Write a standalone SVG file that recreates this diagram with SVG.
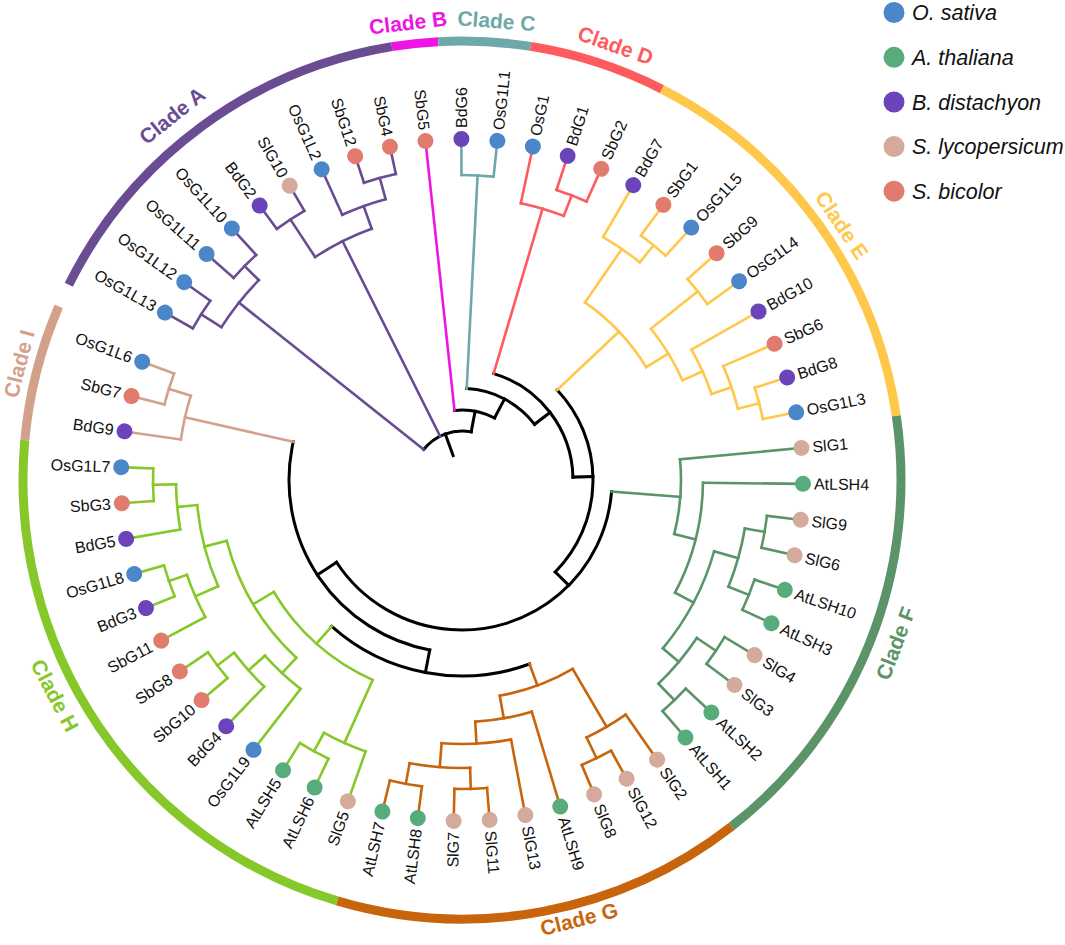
<svg xmlns="http://www.w3.org/2000/svg" width="1065" height="945" viewBox="0 0 1065 945">
<style>
.c line,.c circle{fill:none;stroke-width:2.6;stroke-linecap:square}
.k{stroke:#000}.k line,.k circle{stroke-width:3}
.A{stroke:#6A4C93}.B{stroke:#EF14E4}.C{stroke:#6FA8A8}.D{stroke:#FF5A5E}.E{stroke:#FFC84B}.F{stroke:#5A9468}.G{stroke:#C8650C}.H{stroke:#86C829}.I{stroke:#D3A18B}
.os{fill:#4A86C8}.at{fill:#58AC7C}.bd{fill:#6B44BA}.sl{fill:#D3AA9B}.sb{fill:#E07B6E}
.lb{font-family:"Liberation Sans",Arial,sans-serif;font-size:16px;fill:#111}
.fl{text-anchor:end}
.cl{font-family:"Liberation Sans",Arial,sans-serif;font-size:21px;font-weight:bold;text-anchor:middle;dominant-baseline:central}
.lg{font-family:"Liberation Sans",Arial,sans-serif;font-size:21.5px;font-style:italic;fill:#111}
</style>
<rect width="1065" height="945" fill="#fff"/>

<g id="clade-ring" transform="translate(462,480)" fill="none" stroke-width="9">
<circle r="439" pathLength="360" stroke-dasharray="54.4 360" transform="rotate(206.4)" stroke="#6A4C93"/>
<circle r="439" pathLength="360" stroke-dasharray="6.1 360" transform="rotate(260.8)" stroke="#EF14E4"/>
<circle r="439" pathLength="360" stroke-dasharray="12.1 360" transform="rotate(266.9)" stroke="#6FA8A8"/>
<circle r="439" pathLength="360" stroke-dasharray="18.1 360" transform="rotate(279)" stroke="#FF5A5E"/>
<circle r="439" pathLength="360" stroke-dasharray="54.5 360" transform="rotate(297.1)" stroke="#FFC84B"/>
<circle r="439" pathLength="360" stroke-dasharray="60.5 360" transform="rotate(351.6)" stroke="#5A9468"/>
<circle r="439" pathLength="360" stroke-dasharray="54.4 360" transform="rotate(52.1)" stroke="#C8650C"/>
<circle r="439" pathLength="360" stroke-dasharray="78.7 360" transform="rotate(106.5)" stroke="#86C829"/>
<circle r="439" pathLength="360" stroke-dasharray="18.1 360" transform="rotate(185.2)" stroke="#D3A18B"/>
</g>

<g id="clade-labels" class="cl">
<text transform="translate(172,115.5) rotate(-38.5)" fill="#6A4C93">Clade A</text>
<text transform="translate(408,22.5) rotate(-6.7)" fill="#EF14E4">Clade B</text>
<text transform="translate(496.5,20.7) rotate(4.3)" fill="#6FA8A8">Clade C</text>
<text transform="translate(615.6,45.2) rotate(19.5)" fill="#FF5A5E">Clade D</text>
<text transform="translate(842,225) rotate(56.2)" fill="#FFC84B">Clade E</text>
<text transform="translate(895.4,643.4) rotate(-69.3)" fill="#5A9468">Clade F</text>
<text transform="translate(579,919) rotate(-14.3)" fill="#C8650C">Clade G</text>
<text transform="translate(55,695.4) rotate(62.1)" fill="#86C829">Clade H</text>
<text transform="translate(19,363.7) rotate(-75.3)" fill="#D3A18B">Clade I</text>
</g>

<g id="connectors" class="c" transform="translate(462,480)">
<g id="backbone" class="k">
<line x1="26" x2="49" transform="rotate(250)"/>
<circle r="49" pathLength="360" stroke-dasharray="62.32 360" transform="rotate(218.48)"/>
<line x1="49" x2="70" transform="rotate(280.8)"/>
<circle r="70" pathLength="360" stroke-dasharray="33.85 360" transform="rotate(263.85)"/>
<line x1="70" x2="91.5" transform="rotate(297.7)"/>
<circle r="91.5" pathLength="360" stroke-dasharray="49.57 360" transform="rotate(272.93)"/>
<line x1="91.5" x2="111" transform="rotate(322.5)"/>
<circle r="111" pathLength="360" stroke-dasharray="71.96 360" transform="rotate(286.54)"/>
<line x1="111" x2="131" transform="rotate(358.5)"/>
<circle r="131" pathLength="360" stroke-dasharray="88 360" transform="rotate(316.6)"/>
<line x1="131" x2="150" transform="rotate(44.6)"/>
<circle r="150" pathLength="360" stroke-dasharray="142.32 360" transform="rotate(4.43)"/>
<line x1="150" x2="173" transform="rotate(146.75)"/>
<circle r="173" pathLength="360" stroke-dasharray="91.98 360" transform="rotate(100.76)"/>
<line x1="173" x2="196" transform="rotate(100.76)"/>
<circle r="196" pathLength="360" stroke-dasharray="61.82 360" transform="rotate(69.85)"/>
</g>
<g id="edges-A" class="A">
<line x1="49" x2="285" transform="rotate(218.48)"/>
<circle r="285" pathLength="360" stroke-dasharray="12.1 360" transform="rotate(212.43)"/>
<line x1="285" x2="309" transform="rotate(212.43)"/>
<circle r="309" pathLength="360" stroke-dasharray="6.05 360" transform="rotate(209.4)"/>
<line x1="309" x2="341" transform="rotate(209.4)"/>
<line x1="309" x2="341" transform="rotate(215.45)"/>
<line x1="285" x2="305" transform="rotate(224.53)"/>
<circle r="305" pathLength="360" stroke-dasharray="6.05 360" transform="rotate(221.5)"/>
<line x1="305" x2="341" transform="rotate(221.5)"/>
<line x1="305" x2="341" transform="rotate(227.55)"/>
<line x1="49" x2="267" transform="rotate(243.43)"/>
<circle r="267" pathLength="360" stroke-dasharray="13.61 360" transform="rotate(236.63)"/>
<line x1="267" x2="312" transform="rotate(236.63)"/>
<circle r="312" pathLength="360" stroke-dasharray="6.05 360" transform="rotate(233.6)"/>
<line x1="312" x2="341" transform="rotate(233.6)"/>
<line x1="312" x2="341" transform="rotate(239.65)"/>
<line x1="267" x2="291" transform="rotate(250.24)"/>
<circle r="291" pathLength="360" stroke-dasharray="9.08 360" transform="rotate(245.7)"/>
<line x1="291" x2="341" transform="rotate(245.7)"/>
<line x1="291" x2="313" transform="rotate(254.78)"/>
<circle r="313" pathLength="360" stroke-dasharray="6.05 360" transform="rotate(251.75)"/>
<line x1="313" x2="341" transform="rotate(251.75)"/>
<line x1="313" x2="341" transform="rotate(257.8)"/>
</g>
<g id="edges-B" class="B">
<line x1="70" x2="341" transform="rotate(263.85)"/>
</g>
<g id="edges-C" class="C">
<line x1="91.5" x2="305" transform="rotate(272.93)"/>
<circle r="305" pathLength="360" stroke-dasharray="6.05 360" transform="rotate(269.9)"/>
<line x1="305" x2="341" transform="rotate(269.9)"/>
<line x1="305" x2="341" transform="rotate(275.95)"/>
</g>
<g id="edges-D" class="D">
<line x1="111" x2="283" transform="rotate(286.54)"/>
<circle r="283" pathLength="360" stroke-dasharray="9.08 360" transform="rotate(282)"/>
<line x1="283" x2="341" transform="rotate(282)"/>
<line x1="283" x2="305" transform="rotate(291.08)"/>
<circle r="305" pathLength="360" stroke-dasharray="6.05 360" transform="rotate(288.05)"/>
<line x1="305" x2="341" transform="rotate(288.05)"/>
<line x1="305" x2="341" transform="rotate(294.1)"/>
</g>
<g id="edges-E" class="E">
<line x1="131" x2="216" transform="rotate(316.6)"/>
<circle r="216" pathLength="360" stroke-dasharray="23.82 360" transform="rotate(304.69)"/>
<line x1="216" x2="281" transform="rotate(304.69)"/>
<circle r="281" pathLength="360" stroke-dasharray="9.08 360" transform="rotate(300.15)"/>
<line x1="281" x2="341" transform="rotate(300.15)"/>
<line x1="281" x2="303" transform="rotate(309.23)"/>
<circle r="303" pathLength="360" stroke-dasharray="6.05 360" transform="rotate(306.2)"/>
<line x1="303" x2="341" transform="rotate(306.2)"/>
<line x1="303" x2="341" transform="rotate(312.25)"/>
<line x1="216" x2="242" transform="rotate(328.51)"/>
<circle r="242" pathLength="360" stroke-dasharray="14.36 360" transform="rotate(321.33)"/>
<line x1="242" x2="302" transform="rotate(321.33)"/>
<circle r="302" pathLength="360" stroke-dasharray="6.05 360" transform="rotate(318.3)"/>
<line x1="302" x2="341" transform="rotate(318.3)"/>
<line x1="302" x2="341" transform="rotate(324.35)"/>
<line x1="242" x2="264" transform="rotate(335.69)"/>
<circle r="264" pathLength="360" stroke-dasharray="10.59 360" transform="rotate(330.4)"/>
<line x1="264" x2="341" transform="rotate(330.4)"/>
<line x1="264" x2="285" transform="rotate(340.99)"/>
<circle r="285" pathLength="360" stroke-dasharray="9.08 360" transform="rotate(336.45)"/>
<line x1="285" x2="341" transform="rotate(336.45)"/>
<line x1="285" x2="307" transform="rotate(345.53)"/>
<circle r="307" pathLength="360" stroke-dasharray="6.05 360" transform="rotate(342.5)"/>
<line x1="307" x2="341" transform="rotate(342.5)"/>
<line x1="307" x2="341" transform="rotate(348.55)"/>
</g>
<g id="edges-F" class="F">
<line x1="150" x2="219" transform="rotate(4.43)"/>
<circle r="219" pathLength="360" stroke-dasharray="19.66 360" transform="rotate(354.6)"/>
<line x1="219" x2="341" transform="rotate(354.6)"/>
<line x1="219" x2="241" transform="rotate(14.26)"/>
<circle r="241" pathLength="360" stroke-dasharray="27.23 360" transform="rotate(0.65)"/>
<line x1="241" x2="341" transform="rotate(0.65)"/>
<line x1="241" x2="262" transform="rotate(27.88)"/>
<circle r="262" pathLength="360" stroke-dasharray="24.2 360" transform="rotate(15.78)"/>
<line x1="262" x2="287" transform="rotate(15.78)"/>
<circle r="287" pathLength="360" stroke-dasharray="12.1 360" transform="rotate(9.73)"/>
<line x1="287" x2="307" transform="rotate(9.73)"/>
<circle r="307" pathLength="360" stroke-dasharray="6.05 360" transform="rotate(6.7)"/>
<line x1="307" x2="341" transform="rotate(6.7)"/>
<line x1="307" x2="341" transform="rotate(12.75)"/>
<line x1="287" x2="309" transform="rotate(21.83)"/>
<circle r="309" pathLength="360" stroke-dasharray="6.05 360" transform="rotate(18.8)"/>
<line x1="309" x2="341" transform="rotate(18.8)"/>
<line x1="309" x2="341" transform="rotate(24.85)"/>
<line x1="262" x2="283" transform="rotate(39.98)"/>
<circle r="283" pathLength="360" stroke-dasharray="12.1 360" transform="rotate(33.93)"/>
<line x1="283" x2="306" transform="rotate(33.93)"/>
<circle r="306" pathLength="360" stroke-dasharray="6.05 360" transform="rotate(30.9)"/>
<line x1="306" x2="341" transform="rotate(30.9)"/>
<line x1="306" x2="341" transform="rotate(36.95)"/>
<line x1="283" x2="306" transform="rotate(46.03)"/>
<circle r="306" pathLength="360" stroke-dasharray="6.05 360" transform="rotate(43)"/>
<line x1="306" x2="341" transform="rotate(43)"/>
<line x1="306" x2="341" transform="rotate(49.05)"/>
</g>
<g id="edges-G" class="G">
<line x1="196" x2="219" transform="rotate(69.85)"/>
<circle r="219" pathLength="360" stroke-dasharray="20.42 360" transform="rotate(59.64)"/>
<line x1="219" x2="286" transform="rotate(59.64)"/>
<circle r="286" pathLength="360" stroke-dasharray="9.08 360" transform="rotate(55.1)"/>
<line x1="286" x2="341" transform="rotate(55.1)"/>
<line x1="286" x2="309" transform="rotate(64.18)"/>
<circle r="309" pathLength="360" stroke-dasharray="6.05 360" transform="rotate(61.15)"/>
<line x1="309" x2="341" transform="rotate(61.15)"/>
<line x1="309" x2="341" transform="rotate(67.2)"/>
<line x1="219" x2="242" transform="rotate(80.06)"/>
<circle r="242" pathLength="360" stroke-dasharray="13.61 360" transform="rotate(73.25)"/>
<line x1="242" x2="341" transform="rotate(73.25)"/>
<line x1="242" x2="264" transform="rotate(86.86)"/>
<circle r="264" pathLength="360" stroke-dasharray="15.13 360" transform="rotate(79.3)"/>
<line x1="264" x2="341" transform="rotate(79.3)"/>
<line x1="264" x2="288" transform="rotate(94.43)"/>
<circle r="288" pathLength="360" stroke-dasharray="12.1 360" transform="rotate(88.38)"/>
<line x1="288" x2="309" transform="rotate(88.38)"/>
<circle r="309" pathLength="360" stroke-dasharray="6.05 360" transform="rotate(85.35)"/>
<line x1="309" x2="341" transform="rotate(85.35)"/>
<line x1="309" x2="341" transform="rotate(91.4)"/>
<line x1="288" x2="309" transform="rotate(100.48)"/>
<circle r="309" pathLength="360" stroke-dasharray="6.05 360" transform="rotate(97.45)"/>
<line x1="309" x2="341" transform="rotate(97.45)"/>
<line x1="309" x2="341" transform="rotate(103.5)"/>
</g>
<g id="edges-H" class="H">
<line x1="196" x2="219" transform="rotate(131.67)"/>
<circle r="219" pathLength="360" stroke-dasharray="35.16 360" transform="rotate(114.09)"/>
<line x1="219" x2="288" transform="rotate(114.09)"/>
<circle r="288" pathLength="360" stroke-dasharray="9.08 360" transform="rotate(109.55)"/>
<line x1="288" x2="341" transform="rotate(109.55)"/>
<line x1="288" x2="309" transform="rotate(118.63)"/>
<circle r="309" pathLength="360" stroke-dasharray="6.05 360" transform="rotate(115.6)"/>
<line x1="309" x2="341" transform="rotate(115.6)"/>
<line x1="309" x2="341" transform="rotate(121.65)"/>
<line x1="219" x2="243" transform="rotate(149.25)"/>
<circle r="243" pathLength="360" stroke-dasharray="32.52 360" transform="rotate(132.99)"/>
<line x1="243" x2="264" transform="rotate(132.99)"/>
<circle r="264" pathLength="360" stroke-dasharray="10.59 360" transform="rotate(127.7)"/>
<line x1="264" x2="341" transform="rotate(127.7)"/>
<line x1="264" x2="286" transform="rotate(138.29)"/>
<circle r="286" pathLength="360" stroke-dasharray="9.08 360" transform="rotate(133.75)"/>
<line x1="286" x2="341" transform="rotate(133.75)"/>
<line x1="286" x2="307" transform="rotate(142.83)"/>
<circle r="307" pathLength="360" stroke-dasharray="6.05 360" transform="rotate(139.8)"/>
<line x1="307" x2="341" transform="rotate(139.8)"/>
<line x1="307" x2="341" transform="rotate(145.85)"/>
<line x1="243" x2="266" transform="rotate(165.51)"/>
<circle r="266" pathLength="360" stroke-dasharray="18.15 360" transform="rotate(156.44)"/>
<line x1="266" x2="291" transform="rotate(156.44)"/>
<circle r="291" pathLength="360" stroke-dasharray="9.08 360" transform="rotate(151.9)"/>
<line x1="291" x2="341" transform="rotate(151.9)"/>
<line x1="291" x2="310" transform="rotate(160.98)"/>
<circle r="310" pathLength="360" stroke-dasharray="6.05 360" transform="rotate(157.95)"/>
<line x1="310" x2="341" transform="rotate(157.95)"/>
<line x1="310" x2="341" transform="rotate(164)"/>
<line x1="266" x2="286" transform="rotate(174.59)"/>
<circle r="286" pathLength="360" stroke-dasharray="9.08 360" transform="rotate(170.05)"/>
<line x1="286" x2="341" transform="rotate(170.05)"/>
<line x1="286" x2="309" transform="rotate(179.13)"/>
<circle r="309" pathLength="360" stroke-dasharray="6.05 360" transform="rotate(176.1)"/>
<line x1="309" x2="341" transform="rotate(176.1)"/>
<line x1="309" x2="341" transform="rotate(182.15)"/>
</g>
<g id="edges-I" class="I">
<line x1="173" x2="284" transform="rotate(192.74)"/>
<circle r="284" pathLength="360" stroke-dasharray="9.08 360" transform="rotate(188.2)"/>
<line x1="284" x2="341" transform="rotate(188.2)"/>
<line x1="284" x2="307" transform="rotate(197.28)"/>
<circle r="307" pathLength="360" stroke-dasharray="6.05 360" transform="rotate(194.25)"/>
<line x1="307" x2="341" transform="rotate(194.25)"/>
<line x1="307" x2="341" transform="rotate(200.3)"/>
</g>
</g>

<g id="leaves" class="lb" transform="translate(462,480)">
<g id="OsG1L13" transform="rotate(209.4)"><circle class="os" cx="341" r="8"/><text class="fl" transform="rotate(180)" x="-352" y="5.6">OsG1L13</text></g>
<g id="OsG1L12" transform="rotate(215.45)"><circle class="os" cx="341" r="8"/><text class="fl" transform="rotate(180)" x="-352" y="5.6">OsG1L12</text></g>
<g id="OsG1L11" transform="rotate(221.5)"><circle class="os" cx="341" r="8"/><text class="fl" transform="rotate(180)" x="-352" y="5.6">OsG1L11</text></g>
<g id="OsG1L10" transform="rotate(227.55)"><circle class="os" cx="341" r="8"/><text class="fl" transform="rotate(180)" x="-352" y="5.6">OsG1L10</text></g>
<g id="BdG2" transform="rotate(233.6)"><circle class="bd" cx="341" r="8"/><text class="fl" transform="rotate(180)" x="-352" y="5.6">BdG2</text></g>
<g id="SlG10" transform="rotate(239.65)"><circle class="sl" cx="341" r="8"/><text class="fl" transform="rotate(180)" x="-352" y="5.6">SlG10</text></g>
<g id="OsG1L2" transform="rotate(245.7)"><circle class="os" cx="341" r="8"/><text class="fl" transform="rotate(180)" x="-352" y="5.6">OsG1L2</text></g>
<g id="SbG12" transform="rotate(251.75)"><circle class="sb" cx="341" r="8"/><text class="fl" transform="rotate(180)" x="-352" y="5.6">SbG12</text></g>
<g id="SbG4" transform="rotate(257.8)"><circle class="sb" cx="341" r="8"/><text class="fl" transform="rotate(180)" x="-352" y="5.6">SbG4</text></g>
<g id="SbG5" transform="rotate(263.85)"><circle class="sb" cx="341" r="8"/><text class="fl" transform="rotate(180)" x="-352" y="5.6">SbG5</text></g>
<g id="BdG6" transform="rotate(269.9)"><circle class="bd" cx="341" r="8"/><text x="352" y="5.6">BdG6</text></g>
<g id="OsG1L1" transform="rotate(275.95)"><circle class="os" cx="341" r="8"/><text x="352" y="5.6">OsG1L1</text></g>
<g id="OsG1" transform="rotate(282)"><circle class="os" cx="341" r="8"/><text x="352" y="5.6">OsG1</text></g>
<g id="BdG1" transform="rotate(288.05)"><circle class="bd" cx="341" r="8"/><text x="352" y="5.6">BdG1</text></g>
<g id="SbG2" transform="rotate(294.1)"><circle class="sb" cx="341" r="8"/><text x="352" y="5.6">SbG2</text></g>
<g id="BdG7" transform="rotate(300.15)"><circle class="bd" cx="341" r="8"/><text x="352" y="5.6">BdG7</text></g>
<g id="SbG1" transform="rotate(306.2)"><circle class="sb" cx="341" r="8"/><text x="352" y="5.6">SbG1</text></g>
<g id="OsG1L5" transform="rotate(312.25)"><circle class="os" cx="341" r="8"/><text x="352" y="5.6">OsG1L5</text></g>
<g id="SbG9" transform="rotate(318.3)"><circle class="sb" cx="341" r="8"/><text x="352" y="5.6">SbG9</text></g>
<g id="OsG1L4" transform="rotate(324.35)"><circle class="os" cx="341" r="8"/><text x="352" y="5.6">OsG1L4</text></g>
<g id="BdG10" transform="rotate(330.4)"><circle class="bd" cx="341" r="8"/><text x="352" y="5.6">BdG10</text></g>
<g id="SbG6" transform="rotate(336.45)"><circle class="sb" cx="341" r="8"/><text x="352" y="5.6">SbG6</text></g>
<g id="BdG8" transform="rotate(342.5)"><circle class="bd" cx="341" r="8"/><text x="352" y="5.6">BdG8</text></g>
<g id="OsG1L3" transform="rotate(348.55)"><circle class="os" cx="341" r="8"/><text x="352" y="5.6">OsG1L3</text></g>
<g id="SlG1" transform="rotate(354.6)"><circle class="sl" cx="341" r="8"/><text x="352" y="5.6">SlG1</text></g>
<g id="AtLSH4" transform="rotate(0.65)"><circle class="at" cx="341" r="8"/><text x="352" y="5.6">AtLSH4</text></g>
<g id="SlG9" transform="rotate(6.7)"><circle class="sl" cx="341" r="8"/><text x="352" y="5.6">SlG9</text></g>
<g id="SlG6" transform="rotate(12.75)"><circle class="sl" cx="341" r="8"/><text x="352" y="5.6">SlG6</text></g>
<g id="AtLSH10" transform="rotate(18.8)"><circle class="at" cx="341" r="8"/><text x="352" y="5.6">AtLSH10</text></g>
<g id="AtLSH3" transform="rotate(24.85)"><circle class="at" cx="341" r="8"/><text x="352" y="5.6">AtLSH3</text></g>
<g id="SlG4" transform="rotate(30.9)"><circle class="sl" cx="341" r="8"/><text x="352" y="5.6">SlG4</text></g>
<g id="SlG3" transform="rotate(36.95)"><circle class="sl" cx="341" r="8"/><text x="352" y="5.6">SlG3</text></g>
<g id="AtLSH2" transform="rotate(43)"><circle class="at" cx="341" r="8"/><text x="352" y="5.6">AtLSH2</text></g>
<g id="AtLSH1" transform="rotate(49.05)"><circle class="at" cx="341" r="8"/><text x="352" y="5.6">AtLSH1</text></g>
<g id="SlG2" transform="rotate(55.1)"><circle class="sl" cx="341" r="8"/><text x="352" y="5.6">SlG2</text></g>
<g id="SlG12" transform="rotate(61.15)"><circle class="sl" cx="341" r="8"/><text x="352" y="5.6">SlG12</text></g>
<g id="SlG8" transform="rotate(67.2)"><circle class="sl" cx="341" r="8"/><text x="352" y="5.6">SlG8</text></g>
<g id="AtLSH9" transform="rotate(73.25)"><circle class="at" cx="341" r="8"/><text x="352" y="5.6">AtLSH9</text></g>
<g id="SlG13" transform="rotate(79.3)"><circle class="sl" cx="341" r="8"/><text x="352" y="5.6">SlG13</text></g>
<g id="SlG11" transform="rotate(85.35)"><circle class="sl" cx="341" r="8"/><text x="352" y="5.6">SlG11</text></g>
<g id="SlG7" transform="rotate(91.4)"><circle class="sl" cx="341" r="8"/><text class="fl" transform="rotate(180)" x="-352" y="5.6">SlG7</text></g>
<g id="AtLSH8" transform="rotate(97.45)"><circle class="at" cx="341" r="8"/><text class="fl" transform="rotate(180)" x="-352" y="5.6">AtLSH8</text></g>
<g id="AtLSH7" transform="rotate(103.5)"><circle class="at" cx="341" r="8"/><text class="fl" transform="rotate(180)" x="-352" y="5.6">AtLSH7</text></g>
<g id="SlG5" transform="rotate(109.55)"><circle class="sl" cx="341" r="8"/><text class="fl" transform="rotate(180)" x="-352" y="5.6">SlG5</text></g>
<g id="AtLSH6" transform="rotate(115.6)"><circle class="at" cx="341" r="8"/><text class="fl" transform="rotate(180)" x="-352" y="5.6">AtLSH6</text></g>
<g id="AtLSH5" transform="rotate(121.65)"><circle class="at" cx="341" r="8"/><text class="fl" transform="rotate(180)" x="-352" y="5.6">AtLSH5</text></g>
<g id="OsG1L9" transform="rotate(127.7)"><circle class="os" cx="341" r="8"/><text class="fl" transform="rotate(180)" x="-352" y="5.6">OsG1L9</text></g>
<g id="BdG4" transform="rotate(133.75)"><circle class="bd" cx="341" r="8"/><text class="fl" transform="rotate(180)" x="-352" y="5.6">BdG4</text></g>
<g id="SbG10" transform="rotate(139.8)"><circle class="sb" cx="341" r="8"/><text class="fl" transform="rotate(180)" x="-352" y="5.6">SbG10</text></g>
<g id="SbG8" transform="rotate(145.85)"><circle class="sb" cx="341" r="8"/><text class="fl" transform="rotate(180)" x="-352" y="5.6">SbG8</text></g>
<g id="SbG11" transform="rotate(151.9)"><circle class="sb" cx="341" r="8"/><text class="fl" transform="rotate(180)" x="-352" y="5.6">SbG11</text></g>
<g id="BdG3" transform="rotate(157.95)"><circle class="bd" cx="341" r="8"/><text class="fl" transform="rotate(180)" x="-352" y="5.6">BdG3</text></g>
<g id="OsG1L8" transform="rotate(164)"><circle class="os" cx="341" r="8"/><text class="fl" transform="rotate(180)" x="-352" y="5.6">OsG1L8</text></g>
<g id="BdG5" transform="rotate(170.05)"><circle class="bd" cx="341" r="8"/><text class="fl" transform="rotate(180)" x="-352" y="5.6">BdG5</text></g>
<g id="SbG3" transform="rotate(176.1)"><circle class="sb" cx="341" r="8"/><text class="fl" transform="rotate(180)" x="-352" y="5.6">SbG3</text></g>
<g id="OsG1L7" transform="rotate(182.15)"><circle class="os" cx="341" r="8"/><text class="fl" transform="rotate(180)" x="-352" y="5.6">OsG1L7</text></g>
<g id="BdG9" transform="rotate(188.2)"><circle class="bd" cx="341" r="8"/><text class="fl" transform="rotate(180)" x="-352" y="5.6">BdG9</text></g>
<g id="SbG7" transform="rotate(194.25)"><circle class="sb" cx="341" r="8"/><text class="fl" transform="rotate(180)" x="-352" y="5.6">SbG7</text></g>
<g id="OsG1L6" transform="rotate(200.3)"><circle class="os" cx="341" r="8"/><text class="fl" transform="rotate(180)" x="-352" y="5.6">OsG1L6</text></g>
</g>

<g id="legend" class="lg">
<g id="legend-os"><circle class="os" cx="894" cy="12.5" r="10.5"/><text x="912" y="20">O. sativa</text></g>
<g id="legend-at"><circle class="at" cx="894" cy="57.3" r="10.5"/><text x="912" y="64.8">A. thaliana</text></g>
<g id="legend-bd"><circle class="bd" cx="894" cy="102" r="10.5"/><text x="912" y="109.5">B. distachyon</text></g>
<g id="legend-sl"><circle class="sl" cx="894" cy="146.6" r="10.5"/><text x="912" y="154.1">S. lycopersicum</text></g>
<g id="legend-sb"><circle class="sb" cx="894" cy="191.2" r="10.5"/><text x="912" y="198.7">S. bicolor</text></g>
</g>
</svg>
